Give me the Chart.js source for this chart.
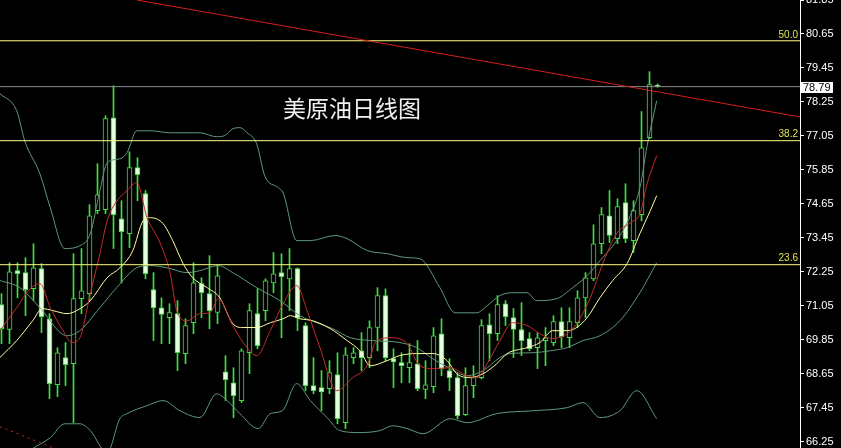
<!DOCTYPE html>
<html><head><meta charset="utf-8">
<script src="https://cdn.jsdelivr.net/npm/chart.js@4.4.1/dist/chart.umd.min.js"></script>
<style>html,body{margin:0;padding:0;background:#000;overflow:hidden}</style>
</head><body>
<canvas id="c" width="841" height="448" style="display:block;width:841px;height:448px"></canvas>
<script>
// ---- candle data (daily OHLC) ----
const opens  = [71.09,70.21,72.29,72.22,71.65,72.36,70.59,68.26,69.22,69.00,71.30,71.48,74.41,74.44,77.69,74.12,73.60,75.93,75.01,71.62,70.98,70.63,70.77,69.36,70.45,71.83,71.48,70.81,68.72,68.33,67.70,69.39,70.77,70.88,71.86,72.22,72.00,72.36,70.35,68.23,68.16,68.12,68.62,66.92,69.22,69.46,69.22,70.28,71.41,69.18,69.04,68.86,69.00,68.09,68.19,70.06,68.76,68.51,67.20,68.23,68.51,70.38,70.06,71.12,70.63,70.21,69.89,69.57,69.82,69.75,70.49,69.92,70.45,71.33,72.00,73.24,74.23,73.42,74.69,73.35,74.27,76.99,78.84];
const highs  = [71.48,72.57,72.57,72.75,73.24,72.54,70.77,69.57,69.75,72.89,73.07,74.62,76.07,77.76,78.82,74.76,76.49,76.28,75.12,72.22,71.33,71.12,71.23,70.59,72.57,72.04,72.82,72.47,69.29,68.86,69.53,71.12,71.65,72.00,72.93,72.89,73.07,72.39,70.45,69.22,68.76,69.11,69.39,69.57,69.57,70.10,70.52,71.69,71.65,69.53,69.39,69.71,69.82,69.11,70.28,70.59,69.18,68.65,68.86,68.93,70.56,70.77,71.41,71.23,70.95,71.16,70.10,70.10,70.28,70.70,70.98,70.98,71.58,72.22,73.91,74.52,75.12,74.83,75.36,74.76,77.91,79.32,78.88];
const lows   = [69.71,69.71,71.33,70.70,71.23,70.10,67.77,67.84,68.23,66.92,70.77,71.23,74.30,74.30,73.07,71.86,73.10,74.76,72.00,69.82,69.71,69.71,68.76,69.00,70.06,70.63,70.24,70.42,67.70,67.10,67.63,68.65,69.53,70.52,71.51,69.92,70.88,70.17,68.05,67.94,67.34,67.94,66.88,66.71,69.00,68.76,68.86,69.46,69.11,68.16,68.33,68.33,68.05,67.77,67.98,68.58,68.05,67.06,67.17,67.80,68.47,69.11,69.82,70.35,69.22,69.29,69.46,68.83,68.93,69.64,69.57,69.57,70.28,70.63,71.93,72.89,73.28,73.24,73.28,72.93,74.05,76.95,78.77];
const closes = [70.24,72.25,72.18,71.62,72.39,70.66,68.30,69.39,68.97,71.30,71.58,74.23,74.97,77.66,74.27,73.67,75.93,75.68,72.18,70.98,70.74,70.81,69.39,70.35,71.86,71.51,70.88,72.11,68.44,67.87,69.46,70.88,69.64,71.93,72.18,72.08,72.36,70.63,68.23,68.05,68.01,68.69,67.06,69.32,69.39,69.22,70.28,71.41,69.22,69.07,68.93,69.04,68.12,68.26,69.99,68.83,68.51,67.17,68.23,68.51,70.35,70.06,71.09,70.66,70.21,69.82,69.53,69.92,69.92,70.49,69.96,70.49,71.33,72.04,73.24,74.27,73.53,74.55,73.42,74.41,76.63,78.86,78.79];

// ---- indicator lines (bar position, price) ----
const maRedIdx = [-0.2,1.9,3.6,4.8,6.1,7.7,8.8,9.8,11.1,12.3,13.2,14.2,15.7,16.9,18.2,19.8,21.1,21.9,23.2,24.8,26.1,27.1,28.9,30.2,31.9,33.6,35.2,36.9,38.2,39.8,41.9,43.9,45.7,46.9,48.9,50.7,52.3,53.9,56.1,58.2,59.4,60.7,62.3,63.9,65.7,67.3,68.9,70.7,71.9,73.6,75.2,76.9,78.6,79.8,80.7,81.9];
const maRedVal = [70.17,70.98,71.65,71.83,70.98,70.17,69.75,69.92,71.48,72.89,74.05,74.66,75.12,75.40,74.16,73.28,72.18,70.88,70.52,70.77,70.81,71.30,70.35,69.75,69.29,70.17,71.12,71.76,70.88,69.57,68.05,68.51,68.93,69.82,69.92,69.71,68.93,68.83,68.86,68.58,68.51,69.00,69.82,70.45,70.35,70.06,69.89,70.06,70.42,71.33,72.57,73.60,73.98,74.30,75.36,76.35];
const maYelIdx = [-0.2,1.9,3.9,5.1,6.4,8.2,9.4,11.1,13.2,14.8,16.4,17.7,18.6,20.2,21.4,22.7,23.9,25.7,27.3,28.9,30.2,31.9,33.6,35.2,36.1,37.3,38.9,41.1,43.2,44.8,46.1,48.2,49.8,51.9,53.9,55.7,56.9,58.6,60.2,61.9,63.2,65.7,67.3,68.9,70.7,71.9,73.2,74.8,76.4,78.2,79.8,81.1,81.9];
const maYelVal = [69.22,69.82,70.52,70.95,70.88,70.77,70.88,71.23,72.04,72.39,72.99,74.05,74.16,73.95,73.35,72.54,72.04,71.69,71.33,70.42,70.28,70.28,70.45,70.59,70.70,70.59,70.52,70.24,69.82,69.46,68.93,69.11,69.29,69.36,69.36,69.11,68.65,68.51,68.65,69.00,69.36,69.57,69.75,70.17,70.17,70.28,70.63,71.33,71.94,72.54,73.60,74.41,74.94];
const bbUpIdx  = [-0.2,1.9,2.9,4.8,6.1,7.9,9.8,11.1,12.3,13.2,14.8,15.7,16.9,18.6,21.1,24.8,26.9,27.9,28.9,29.8,30.7,31.9,32.9,34.6,35.2,36.9,38.6,41.7,43.2,45.7,48.2,50.7,52.3,54.8,56.7,59.4,60.7,62.3,63.9,65.7,66.9,69.4,71.4,73.2,74.8,76.9,78.6,79.8,80.7,81.9];
const bbUpVal  = [78.54,77.94,76.88,75.71,74.51,73.07,73.17,73.60,75.12,76.10,76.24,76.46,77.23,77.23,77.16,77.16,77.02,77.06,77.30,77.34,77.16,76.77,75.64,75.22,75.04,73.35,73.35,73.53,73.42,73.00,72.89,72.75,72.71,71.69,70.80,70.80,71.05,71.41,71.51,71.51,71.23,71.30,71.69,72.11,72.64,73.35,74.23,75.22,76.70,78.29];
const bbMidIdx = [-0.2,2.3,4.8,8.2,9.8,12.3,14.4,16.9,18.6,20.7,23.2,24.8,27.1,28.9,31.9,34.8,37.3,39.4,41.4,43.6,46.4,49.8,51.9,53.9,56.1,58.2,60.2,62.3,63.6,66.4,68.6,70.7,72.7,74.8,77.3,79.8,81.9];
const bbMidVal = [71.94,71.69,70.98,69.99,70.17,70.98,71.69,72.39,72.47,72.39,72.22,72.29,72.47,72.22,71.69,71.23,70.70,70.45,70.24,69.92,69.82,69.75,69.57,69.18,68.83,68.58,68.76,69.22,69.36,69.39,69.46,69.57,69.82,69.99,70.52,71.51,72.57];
const bbLowIdx = [-0.2,3.9,6.1,7.9,9.8,11.1,13.2,14.8,15.7,18.2,20.2,22.3,24.8,26.9,28.2,29.8,32.1,33.6,35.1,36.9,38.6,40.7,42.3,44.8,47.3,48.9,50.7,52.7,56.1,58.2,61.9,66.4,70.7,72.7,74.8,77.3,79.4,81.9];
const bbLowVal = [65.05,66.00,66.39,66.88,66.88,66.64,65.86,67.06,67.24,67.52,67.70,67.34,67.10,67.94,67.70,67.24,66.71,67.24,67.34,68.30,67.70,67.10,66.64,66.57,66.64,66.81,66.71,66.53,67.06,66.92,67.24,67.34,67.45,67.63,67.10,67.34,68.05,67.06];

// ---- levels, trend lines, axis labels ----
const fibLevels = [80.41, 76.88, 72.50];
const fibLabels = ['50.0', '38.2', '23.6'];
const lastPrice = 78.79;
const trendIdx = [16.9, 99.8];
const trendVal = [81.85, 77.72];
const dashIdx = [-0.2, 8.0];
const dashVal = [66.78, 65.86];
const tickLabels = ['66.25','67.45','68.65','69.85','71.05','72.25','73.45','74.65','75.85','77.05','78.25','79.45','80.65','81.85'];
const titleText = '美原油日线图';

// ---- build ----
const GREEN = '#3fe03f';
const X_MIN = -0.1875, X_MAX = 99.8125;
const pts = (xs, ys) => xs.map((x, i) => ({x: x, y: ys[i]}));
const ids = opens.map((_, i) => i);
const hline = v => [{x: X_MIN - 1, y: v}, {x: X_MAX + 1, y: v}];
const lineDs = (data, color, width, order, extra) => Object.assign({
  type: 'line', data: data, borderColor: color, borderWidth: width, pointRadius: 0,
  pointHoverRadius: 0, fill: false, cubicInterpolationMode: 'monotone', order: order
}, extra || {});

const overlay = {
  id: 'overlay',
  afterDraw(chart) {
    const ctx = chart.ctx, a = chart.chartArea, y = chart.scales.y;
    ctx.save();
    ctx.font = '10px "Liberation Sans", Arial, sans-serif';
    ctx.fillStyle = '#e2e25c';
    ctx.textAlign = 'right';
    ctx.textBaseline = 'bottom';
    fibLevels.forEach((v, k) => ctx.fillText(fibLabels[k], a.right - 2, y.getPixelForValue(v) - 1));
    const py = Math.round(y.getPixelForValue(lastPrice));
    ctx.fillStyle = '#ffffff';
    ctx.fillRect(a.right + 1, py - 5, 32, 11);
    ctx.fillStyle = '#000000';
    ctx.textAlign = 'left';
    ctx.textBaseline = 'middle';
    ctx.font = '11px "Liberation Sans", Arial, sans-serif';
    ctx.fillText(lastPrice.toFixed(2), a.right + 3, py + 1);
    ctx.font = '23px "Noto Sans CJK SC", sans-serif';
    ctx.fillStyle = '#f0f0f0';
    ctx.fillText(titleText, 283, 108);
    ctx.restore();
  }
};

new Chart(document.getElementById('c'), {
  type: 'bar',
  data: {
    datasets: [
      {type: 'bar', data: ids.map(i => ({x: i, y: [lows[i], highs[i]]})), backgroundColor: GREEN,
       barThickness: 1, grouped: false, order: 10, borderWidth: 0},
      {type: 'bar', data: ids.map(i => ({x: i, y: [opens[i], closes[i]]})),
       backgroundColor: ids.map(i => closes[i] >= opens[i] ? '#000000' : '#e2ffdc'),
       borderColor: GREEN, borderWidth: 1, borderSkipped: false, barThickness: 5,
       grouped: false, order: 9, minBarLength: 1},
      lineDs(pts(bbUpIdx, bbUpVal), '#5e9a7a', 1, 6),
      lineDs(pts(bbMidIdx, bbMidVal), '#5e9a7a', 1, 6),
      lineDs(pts(bbLowIdx, bbLowVal), '#5e9a7a', 1, 6),
      lineDs(pts(maYelIdx, maYelVal), '#ffffa0', 1, 4),
      lineDs(pts(maRedIdx, maRedVal), '#c82a2a', 1, 3),
      lineDs(hline(fibLevels[0]), '#ffff80', 1, 2, {tension: 0}),
      lineDs(hline(fibLevels[1]), '#ffff80', 1, 2, {tension: 0}),
      lineDs(hline(fibLevels[2]), '#ffff80', 1, 2, {tension: 0}),
      lineDs(hline(lastPrice), '#8c8c8c', 1, 2, {tension: 0}),
      lineDs(pts(trendIdx, trendVal), '#d42020', 1, 1, {tension: 0}),
      lineDs(pts(dashIdx, dashVal), '#c83030', 1, 1, {tension: 0, borderDash: [2, 4]})
    ]
  },
  options: {
    responsive: false,
    animation: false,
    devicePixelRatio: 1,
    layout: {padding: 0, autoPadding: false},
    plugins: {legend: {display: false}, tooltip: {enabled: false}, title: {display: false}},
    events: [],
    scales: {
      x: {type: 'linear', min: X_MIN, max: X_MAX, display: false, offset: false, grid: {offset: false}},
      y: {
        position: 'right', min: 66.025, max: 81.85,
        afterBuildTicks: s => { s.ticks = tickLabels.map(t => ({value: parseFloat(t)})); },
        afterFit: s => { s.width = 41; s.paddingTop = 0; s.paddingBottom = 0; },
        ticks: {color: '#ffffff', padding: 2, autoSkip: false,
                font: {family: '"Liberation Sans", Arial, sans-serif', size: 11},
                callback: v => v.toFixed(2)},
        grid: {drawOnChartArea: false, drawTicks: true, tickLength: 4, color: '#ffffff'},
        border: {display: true, color: '#ffffff', width: 1}
      }
    }
  },
  plugins: [overlay]
});
</script>
</body></html>
